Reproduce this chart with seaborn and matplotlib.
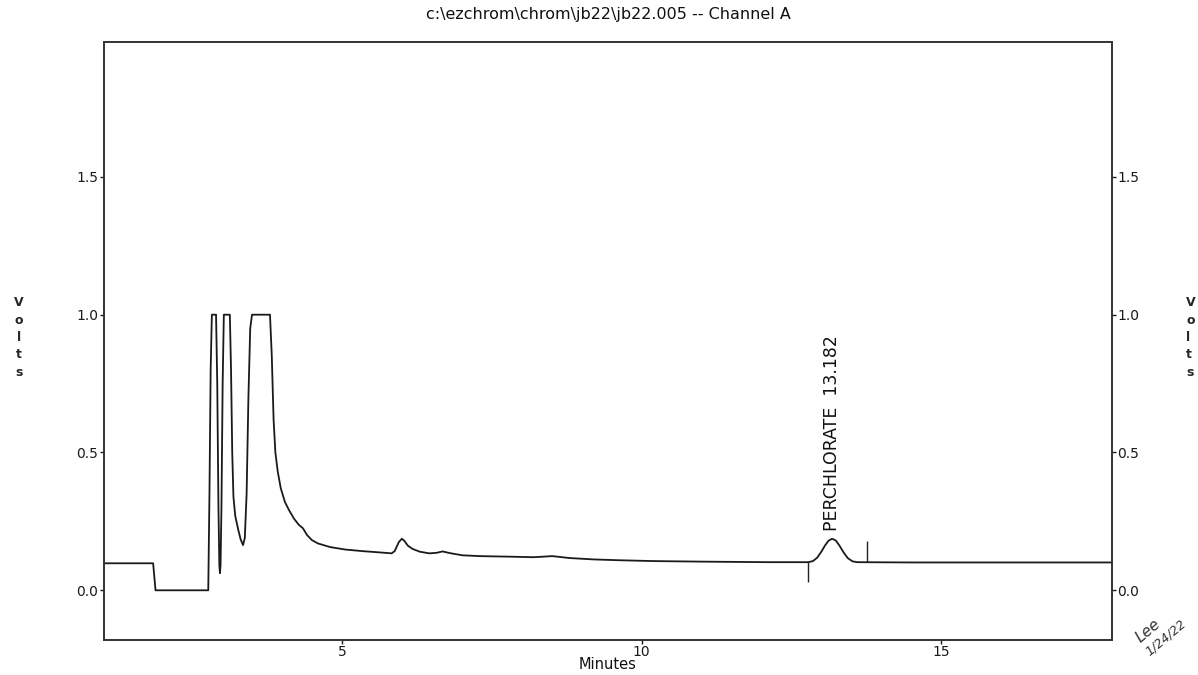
import matplotlib
matplotlib.use("Agg")
import matplotlib.pyplot as plt
import seaborn as sns
import pandas as pd

# ---- data ----
time_min = [1.00, 1.85, 1.89, 2.77, 2.79, 2.81, 2.83, 2.90, 2.92, 2.94, 2.955,
            2.965, 2.975, 2.99, 3.01, 3.03, 3.13, 3.15, 3.17, 3.19, 3.22,
            3.27, 3.31, 3.35, 3.38, 3.41, 3.44, 3.47, 3.50, 3.80, 3.83, 3.86,
            3.89, 3.93, 3.98, 4.05, 4.12, 4.20, 4.28, 4.35, 4.42, 4.50, 4.60,
            4.80, 5.05, 5.35, 5.60, 5.83, 5.88, 5.95, 6.00, 6.04, 6.10, 6.18,
            6.30, 6.46, 6.58, 6.68, 6.80, 7.01, 7.30, 7.80, 8.20, 8.51, 8.80,
            9.20, 9.63, 10.20, 11.00, 12.13, 12.78, 12.86, 12.93, 13.00,
            13.06, 13.12, 13.18, 13.24, 13.30, 13.37, 13.44, 13.52, 13.60,
            14.50, 15.50, 16.50, 17.85]
volts = [0.098, 0.098, 0.000, 0.000, 0.35, 0.80, 1.000, 1.000, 0.75, 0.30,
         0.09, 0.062, 0.09, 0.30, 0.75, 1.000, 1.000, 0.80, 0.50, 0.34,
         0.27, 0.22, 0.185, 0.164, 0.19, 0.35, 0.70, 0.95, 1.000, 1.000,
         0.85, 0.62, 0.50, 0.43, 0.37, 0.32, 0.29, 0.26, 0.238, 0.225, 0.20,
         0.182, 0.170, 0.157, 0.148, 0.142, 0.138, 0.134, 0.142, 0.175,
         0.187, 0.180, 0.162, 0.150, 0.140, 0.134, 0.136, 0.141, 0.135,
         0.127, 0.124, 0.122, 0.120, 0.124, 0.117, 0.112, 0.109, 0.106,
         0.104, 0.102, 0.102, 0.106, 0.118, 0.140, 0.162, 0.180, 0.187,
         0.181, 0.163, 0.138, 0.117, 0.105, 0.102, 0.101, 0.101, 0.101,
         0.101]

peak_name = "PERCHLORATE  13.182"
peak_time = 13.182
mark_times = [12.78, 13.76]
mark_low = [0.03, 0.102]
mark_high = [0.102, 0.18]

x_ticks = [5, 10, 15]
y_ticks = [0.0, 0.5, 1.0, 1.5]
y_tick_labels = ["0.0", "0.5", "1.0", "1.5"]
title_text = "c:\\ezchrom\\chrom\\jb22\\jb22.005 -- Channel A"

df = pd.DataFrame({"Minutes": time_min, "Volts": volts})

sns.set_style("ticks")
plt.rcParams["font.family"] = ["DejaVu Sans"]

fig = plt.figure(figsize=(11.98, 6.75), dpi=100)
ax = fig.add_axes([0.0868, 0.052, 0.8414, 0.886])

sns.lineplot(data=df, x="Minutes", y="Volts", ax=ax, color="#1a1a1a",
             linewidth=1.3, estimator=None, sort=False)

ax.vlines(mark_times, mark_low, mark_high, color="#222222", linewidth=1.0)
ax.text(peak_time, 0.215, peak_name, rotation=90, ha="center", va="bottom",
        fontsize=12.5, color="#111111")

ax.set_xlim(1.03, 17.85)
ax.set_ylim(-0.18, 1.99)
ax.set_xticks(x_ticks)
ax.set_xticklabels([str(t) for t in x_ticks], fontsize=10)
ax.set_yticks(y_ticks)
ax.set_yticklabels(y_tick_labels, fontsize=10)
ax.tick_params(axis="y", which="both", left=True, right=True,
               labelleft=True, labelright=True, length=3, width=1,
               pad=1, colors="#1a1a1a")
ax.tick_params(axis="x", length=3, width=1, pad=1, colors="#1a1a1a")
for s in ax.spines.values():
    s.set_visible(True)
    s.set_color("#333333")
    s.set_linewidth(1.4)

ax.set_xlabel("Minutes", fontsize=10.5, labelpad=-2, color="#111111")
ax.set_ylabel("")

fig.text(0.508, 0.978, title_text, ha="center", va="center", fontsize=11.5,
         color="#111111")
fig.text(0.016, 0.50, "V\no\nl\nt\ns", ha="center", va="center",
         fontsize=9, fontweight="bold", linespacing=1.45)
fig.text(0.990, 0.50, "V\no\nl\nt\ns", ha="left", va="center",
         fontsize=9, fontweight="bold", linespacing=1.45)

fig.text(0.958, 0.065, "Lee", rotation=40, ha="center", va="center",
         fontsize=11, style="italic", color="#333333")
fig.text(0.973, 0.055, "1/24/22", rotation=40, ha="center", va="center",
         fontsize=9, style="italic", color="#333333")

fig.savefig("out.png", dpi=100)
